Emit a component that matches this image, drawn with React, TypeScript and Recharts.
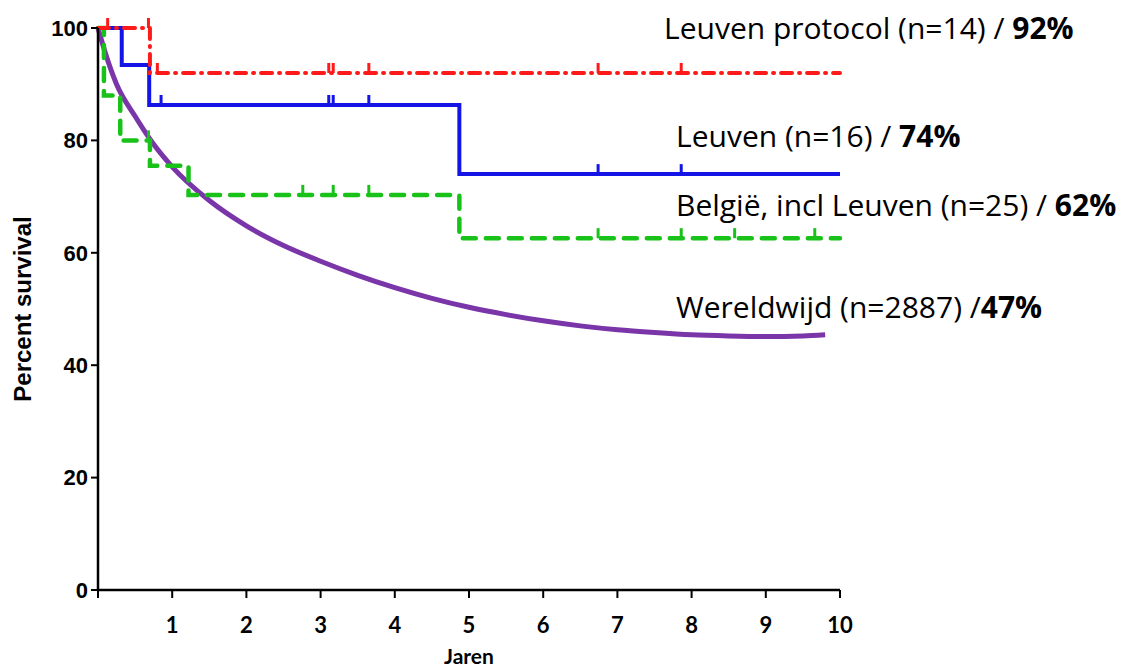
import { ComposedChart, Line, Scatter, XAxis, YAxis } from "recharts";

// Kaplan-Meier steps: time (years) and survival (%) after each event
const protocolTimes = [0, 0.7, 10];
const protocolSurvival = [100, 92, 92];
const protocolCensorTimes = [0.13, 0.68, 0.8, 3.11, 3.17, 3.65, 6.74, 7.86];
const protocolCensorLevels = [100, 100, 92, 92, 92, 92, 92, 92];

const leuvenTimes = [0, 0.32, 0.69, 4.87, 10];
const leuvenSurvival = [100, 93.4, 86.3, 74, 74];
const leuvenCensorTimes = [0.85, 3.11, 3.17, 3.65, 6.74, 7.86];
const leuvenCensorLevels = [86.3, 86.3, 86.3, 86.3, 74, 74];

const belgiumTimes = [0, 0.08, 0.3, 0.7, 1.22, 4.87, 10];
const belgiumSurvival = [100, 88, 80, 75.5, 70.3, 62.6, 62.6];
const belgiumCensorTimes = [0.68, 2.76, 3.17, 3.65, 6.74, 7.86, 8.58, 9.66];
const belgiumCensorLevels = [80, 70.3, 70.3, 70.3, 62.6, 62.6, 62.6, 62.6];

// worldwide registry curve (smooth)
const worldTimes = [0, 0.1, 0.25, 0.5, 0.75, 1, 1.5, 2, 2.5, 3, 3.5, 4, 4.5, 5, 5.5, 6, 6.5, 7, 7.5, 8, 8.5, 9, 9.5, 9.8];
const worldSurvival = [100, 95.5, 90, 84.3, 79.3, 75.3, 69.3, 64.8, 61.3, 58.5, 56, 53.8, 51.9, 50.3, 49, 47.9, 47, 46.3, 45.8, 45.4, 45.2, 45.1, 45.2, 45.4];

const xTicks = [0, 1, 2, 3, 4, 5, 6, 7, 8, 9, 10];
const yTicks = [0, 20, 40, 60, 80, 100];

const toPoints = (xs: number[], ys: number[]) => xs.map((x, i) => ({ x, y: ys[i] }));

const RED = "#ff1a1a";
const BLUE = "#1414e6";
const GREEN = "#19c219";
const PURPLE = "#7a35a8";

const censorMark = (color: string) => (props: any) => {
  const { cx, cy } = props;
  if (cx == null || cy == null) return <g />;
  return <line x1={cx} x2={cx} y1={cy} y2={cy - 10} stroke={color} strokeWidth={3} />;
};

const yFont = { fontFamily: "'Liberation Sans', Arial, sans-serif", fontWeight: 700, fontSize: 22, fill: "#000" };
const xFont = { fontFamily: "Lato, 'Open Sans', sans-serif", fontWeight: 700, fontSize: 22, fill: "#000" };

const legendItems = [
  { text: "Leuven protocol (n=14) / ", bold: "92%", x: 664, y: 39 },
  { text: "Leuven (n=16) / ", bold: "74%", x: 676, y: 147 },
  { text: "België, incl Leuven (n=25) / ", bold: "62%", x: 676, y: 216 },
  { text: "Wereldwijd (n=2887) /", bold: "47%", x: 676, y: 318 },
];

export default function App() {
  return (
    <div style={{ position: "absolute", left: 0, top: 0, width: 1125, height: 668, background: "#fff" }}>
      <ComposedChart width={1125} height={668} margin={{ top: 28, right: 285, bottom: 18, left: 0 }}>
        <XAxis
          type="number"
          dataKey="x"
          domain={[0, 10]}
          ticks={xTicks}
          tickFormatter={(v) => (v === 0 ? "" : String(v))}
          axisLine={{ stroke: "#000", strokeWidth: 2.5 }}
          tickLine={{ stroke: "#000", strokeWidth: 2 }}
          tickSize={8}
          tickMargin={19}
          height={60}
          tick={xFont}
          label={{ value: "Jaren", position: "insideBottom", offset: 0, dy: 14, ...xFont, fontSize: 21 }}
        />
        <YAxis
          type="number"
          dataKey="y"
          domain={[0, 100]}
          ticks={yTicks}
          axisLine={{ stroke: "#000", strokeWidth: 2.5 }}
          tickLine={{ stroke: "#000", strokeWidth: 2 }}
          tickSize={7}
          tickMargin={3}
          width={98}
          tick={yFont}
          label={{
            value: "Percent survival",
            angle: -90,
            position: "insideLeft",
            offset: 22,
            textAnchor: "middle",
            ...yFont,
            fontSize: 24,
          }}
        />
        <Line
          data={toPoints(worldTimes, worldSurvival)}
          dataKey="y"
          type="monotone"
          stroke={PURPLE}
          strokeWidth={5}
          dot={false}
          activeDot={false}
          isAnimationActive={false}
        />
        <Line
          data={toPoints(belgiumTimes, belgiumSurvival)}
          dataKey="y"
          type="stepAfter"
          stroke={GREEN}
          strokeWidth={4.5}
          strokeDasharray="13 10"
          strokeLinecap="round"
          dot={false}
          activeDot={false}
          isAnimationActive={false}
        />
        <Line
          data={toPoints(leuvenTimes, leuvenSurvival)}
          dataKey="y"
          type="stepAfter"
          stroke={BLUE}
          strokeWidth={4}
          dot={false}
          activeDot={false}
          isAnimationActive={false}
        />
        <Line
          data={toPoints(protocolTimes, protocolSurvival)}
          dataKey="y"
          type="stepAfter"
          stroke={RED}
          strokeWidth={4}
          strokeDasharray="11 7 1 7"
          strokeLinecap="round"
          dot={false}
          activeDot={false}
          isAnimationActive={false}
        />
        <Scatter data={toPoints(belgiumCensorTimes, belgiumCensorLevels)} dataKey="y" shape={censorMark(GREEN)} isAnimationActive={false} />
        <Scatter data={toPoints(leuvenCensorTimes, leuvenCensorLevels)} dataKey="y" shape={censorMark(BLUE)} isAnimationActive={false} />
        <Scatter data={toPoints(protocolCensorTimes, protocolCensorLevels)} dataKey="y" shape={censorMark(RED)} isAnimationActive={false} />
      </ComposedChart>
      <svg width={1125} height={668} style={{ position: "absolute", left: 0, top: 0, pointerEvents: "none" }}>
        {legendItems.map((item) => (
          <text key={item.text} x={item.x} y={item.y} fontFamily="'Open Sans', Lato, sans-serif" fontSize={30} fill="#000">
            {item.text}
            <tspan fontWeight={700}>{item.bold}</tspan>
          </text>
        ))}
      </svg>
    </div>
  );
}
